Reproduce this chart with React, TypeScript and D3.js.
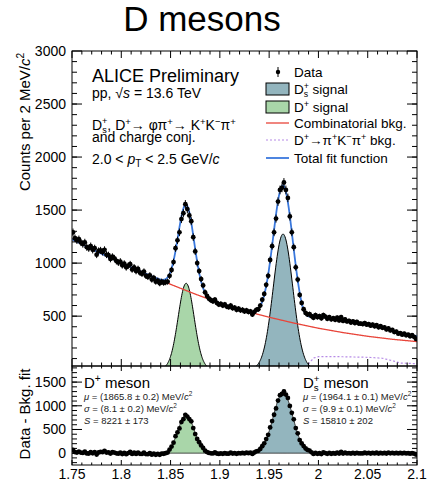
import React from 'react';
import * as d3 from 'd3';

const W = 433;
const H = 488;
const FONT = '"Liberation Sans", Arial, Helvetica, sans-serif';

// invariant mass histogram: 2 MeV/c2 bins between 1.75 and 2.10 GeV/c2
const massMin = 1.75;
const massMax = 2.1;
const binWidth = 0.002;
const counts = [
  1290, 1235, 1215, 1225, 1195, 1180, 1195, 1150, 1140, 1160, 1125, 1140,
  1080, 1115, 1120, 1105, 1125, 1080, 1075, 1040, 1060, 1045, 1020, 1005, 1015,
  980, 995, 960, 975, 990, 940, 960, 925, 945, 910, 900, 920,
  880, 870, 885, 845, 860, 825, 835, 810, 825, 815, 820, 825, 880,
  935, 1010, 1140, 1215, 1290, 1415, 1470, 1555, 1510, 1450, 1395, 1245,
  1110, 1000, 925, 850, 790, 725, 690, 665, 650, 640, 655, 625, 610,
  615, 600, 610, 590, 585, 600, 575, 580, 560, 570, 555, 560,
  545, 555, 540, 545, 515, 540, 560, 565, 600, 655, 710, 795, 880,
  1030, 1160, 1290, 1420, 1580, 1690, 1710, 1760, 1690, 1615, 1440, 1290,
  1150, 960, 845, 700, 625, 565, 530, 515, 520, 500, 485, 510, 490,
  500, 480, 510, 495, 475, 490, 470, 480, 465, 485, 460, 490,
  455, 470, 450, 455, 440, 450, 435, 445, 430, 430, 425, 435, 420,
  425, 410, 420, 405, 415, 395, 405, 390, 395, 375, 385, 365,
  370, 350, 355, 335, 340, 325, 335, 320, 325, 310, 320, 305, 285,
];

const bkgMass = [1.75, 1.775, 1.8, 1.825, 1.85, 1.875, 1.9, 1.925, 1.95, 1.975, 2.0, 2.025, 2.05, 2.075, 2.1];
const bkgCounts = [1225, 1110, 1002, 900, 800, 708, 622, 550, 490, 435, 386, 345, 310, 282, 260];

// D+ -> pi+ K- pi+ reflection
const reflMass = [1.75, 1.985, 1.99, 1.995, 2.0, 2.02, 2.05, 2.065, 2.075, 2.083, 2.1];
const reflCounts = [0, 0, 50, 105, 118, 118, 112, 103, 80, 58, 52];

// gaussian signals: D+ and Ds+
const sigMean = [1.8658, 1.9641];
const sigSigma = [0.0081, 0.0099];
const sigYield = [8221, 15810];

// ticks
const massTicks = [1.75, 1.8, 1.85, 1.9, 1.95, 2, 2.05, 2.1];
const massTickLabels = ['1.75', '1.8', '1.85', '1.9', '1.95', '2', '2.05', '2.1'];
const countTicks = [500, 1000, 1500, 2000, 2500, 3000];
const residTicks = [0, 500, 1000, 1500];

const colors = {
  dplus: '#a9d6a9',
  ds: '#93b5be',
  bkg: '#e8453a',
  refl: '#b68ae6',
  fit: '#3a78dd',
};

const x = d3.scaleLinear().domain([massMin, massMax]).range([72, 417]);
const yTop = d3.scaleLinear().domain([30, 3000]).range([366, 51]);
const yBot = d3.scaleLinear().domain([-250, 1840]).range([465, 366]);

const bkg = d3.scaleLinear().domain(bkgMass).range(bkgCounts);
const refl = d3.scaleLinear().domain(reflMass).range(reflCounts).clamp(true);
const gaus = (i: number, m: number) => {
  const amp = (sigYield[i] * binWidth) / (sigSigma[i] * Math.sqrt(2 * Math.PI));
  return amp * Math.exp(-0.5 * ((m - sigMean[i]) / sigSigma[i]) ** 2);
};

function Frame({ y, major, minor, xLen }: any) {
  const [x0, x1] = x.range();
  const [yb, yt] = y.range();
  const xMinor = d3.range(0, 36).map((i) => massMin + i * 0.01);
  return (
    <g stroke="#000" strokeWidth={1} fill="none">
      <rect x={x0} y={yt} width={x1 - x0} height={yb - yt} />
      {xMinor.map((m, i) => {
        const len = i % 5 === 0 ? xLen : xLen / 2;
        return (
          <g key={'x' + i}>
            <line x1={x(m)} x2={x(m)} y1={yb} y2={yb - len} />
            <line x1={x(m)} x2={x(m)} y1={yt} y2={yt + len} />
          </g>
        );
      })}
      {minor.map((v: number) => (
        <g key={'m' + v}>
          <line x1={x0} x2={x0 + 5} y1={y(v)} y2={y(v)} />
          <line x1={x1} x2={x1 - 5} y1={y(v)} y2={y(v)} />
        </g>
      ))}
      {major.map((v: number) => (
        <g key={'M' + v}>
          <line x1={x0} x2={x0 + 10} y1={y(v)} y2={y(v)} />
          <line x1={x1} x2={x1 - 10} y1={y(v)} y2={y(v)} />
        </g>
      ))}
    </g>
  );
}

// D_s^+ with stacked sub/superscript
const Ds = ({ size }: { size: number }) => (
  <>
    <tspan>D</tspan>
    <tspan fontSize={size * 0.65} baselineShift={-size * 0.22}>s</tspan>
    <tspan fontSize={size * 0.65} dx={-size * 0.33} baselineShift={size * 0.4}>+</tspan>
  </>
);

const Sup = ({ t, size }: { t: string; size: number }) => (
  <tspan fontSize={size * 0.68} baselineShift={size * 0.38}>{t}</tspan>
);

export default function App() {
  const pts = counts.map((c, i) => {
    const m = massMin + binWidth * (i + 0.5);
    return { m, c, e: Math.sqrt(c), r: c - bkg(m) - refl(m) };
  });

  const grid = d3.range(massMin, massMax + 1e-9, 0.0005);
  const lineTop = d3
    .line<[number, number]>()
    .x((d) => x(d[0]))
    .y((d) => yTop(d[1]))
    .curve(d3.curveMonotoneX);

  const totalFit = grid.map((m) => [m, bkg(m) + refl(m) + gaus(0, m) + gaus(1, m)] as [number, number]);
  const bkgLine = grid.map((m) => [m, bkg(m)] as [number, number]);
  const reflLine = d3
    .range(1.984, massMax + 1e-9, 0.0005)
    .map((m) => [m, refl(m)] as [number, number]);

  const sigArea = (i: number, y: any) => {
    const s = d3.range(sigMean[i] - 3 * sigSigma[i], sigMean[i] + 3 * sigSigma[i] + 1e-9, sigSigma[i] / 20);
    return d3
      .area<number>()
      .x((m) => x(m))
      .y0(y(0))
      .y1((m) => y(gaus(i, m)))
      .curve(d3.curveMonotoneX)(s) as string;
  };

  const fills = [colors.dplus, colors.ds];

  return (
    <svg width={W} height={H} style={{ position: 'absolute', left: 0, top: 0, background: '#fff' }} fontFamily={FONT}>
      <defs>
        <clipPath id="clipTop">
          <rect x={72} y={51} width={345} height={315} />
        </clipPath>
        <clipPath id="clipBot">
          <rect x={72} y={366} width={345} height={99} />
        </clipPath>
      </defs>

      <text x={202} y={31} textAnchor="middle" fontSize={35}>D mesons</text>

      {/* top panel */}
      <g clipPath="url(#clipTop)">
        {[0, 1].map((i) => (
          <path key={i} d={sigArea(i, yTop)} fill={fills[i]} stroke="#000" strokeWidth={1} />
        ))}
        <path d={lineTop(reflLine) as string} fill="none" stroke={colors.refl} strokeWidth={1.2} strokeDasharray="2,2" />
        <path d={lineTop(bkgLine) as string} fill="none" stroke={colors.bkg} strokeWidth={1.3} />
        <path d={lineTop(totalFit) as string} fill="none" stroke={colors.fit} strokeWidth={1.8} />
        {pts.map((p, i) => (
          <g key={i} stroke="#000" strokeWidth={1}>
            <line x1={x(p.m)} x2={x(p.m)} y1={yTop(p.c - p.e)} y2={yTop(p.c + p.e)} />
            <line x1={x(p.m - binWidth / 2)} x2={x(p.m + binWidth / 2)} y1={yTop(p.c)} y2={yTop(p.c)} />
            <circle cx={x(p.m)} cy={yTop(p.c)} r={2.4} fill="#000" stroke="none" />
          </g>
        ))}
      </g>
      <Frame y={yTop} major={countTicks} minor={d3.range(100, 3000, 100)} xLen={7} />
      {countTicks.map((v) => (
        <text key={v} x={66} y={yTop(v)} dy="0.35em" textAnchor="end" fontSize={14}>{v}</text>
      ))}

      {/* bottom panel */}
      <g clipPath="url(#clipBot)">
        {[0, 1].map((i) => (
          <path key={i} d={sigArea(i, yBot)} fill={fills[i]} stroke="#333" strokeWidth={1} />
        ))}
        {pts.map((p, i) => (
          <g key={i} stroke="#000" strokeWidth={1}>
            <line x1={x(p.m)} x2={x(p.m)} y1={yBot(p.r - p.e)} y2={yBot(p.r + p.e)} />
            <line x1={x(p.m - binWidth / 2)} x2={x(p.m + binWidth / 2)} y1={yBot(p.r)} y2={yBot(p.r)} />
            <circle cx={x(p.m)} cy={yBot(p.r)} r={2.4} fill="#000" stroke="none" />
          </g>
        ))}
      </g>
      <Frame y={yBot} major={residTicks} minor={d3.range(-200, 1840, 100)} xLen={5} />
      {residTicks.map((v) => (
        <text key={v} x={66} y={yBot(v)} dy="0.35em" textAnchor="end" fontSize={14}>{v}</text>
      ))}
      {massTicks.map((v, i) => (
        <text key={v} x={x(v)} y={479} textAnchor="middle" fontSize={14}>{massTickLabels[i]}</text>
      ))}

      {/* axis titles */}
      <text transform="translate(30,122) rotate(-90)" textAnchor="middle" fontSize={15}>
        Counts per 2 MeV/<tspan fontStyle="italic">c</tspan>
        <Sup t="2" size={15} />
      </text>
      <text transform="translate(30,414) rotate(-90)" textAnchor="middle" fontSize={15}>Data - Bkg. fit</text>

      {/* labels top panel */}
      <text x={92} y={82} fontSize={18}>ALICE Preliminary</text>
      <text x={92} y={98} fontSize={14}>
        pp, √<tspan fontStyle="italic">s</tspan> = 13.6 TeV
      </text>
      <text x={92} y={130} fontSize={14}>
        <Ds size={14} />, D<Sup t="+" size={14} />→ φπ<Sup t="+" size={14} />→ K<Sup t="+" size={14} />K<Sup t="−" size={14} />π<Sup t="+" size={14} />
      </text>
      <text x={92} y={142} fontSize={14}>and charge conj.</text>
      <text x={92} y={164} fontSize={14}>
        2.0 &lt; <tspan fontStyle="italic">p</tspan>
        <tspan fontSize={10} baselineShift={-3}>T</tspan> &lt; 2.5 GeV/<tspan fontStyle="italic">c</tspan>
      </text>

      {/* legend */}
      <g fontSize={13.5}>
        <line x1={278} x2={278} y1={67} y2={77} stroke="#000" />
        <circle cx={278} cy={72} r={2.2} fill="#000" />
        <text x={294} y={77}>Data</text>
        <rect x={266} y={83} width={23} height={12} fill={colors.ds} stroke="#000" />
        <text x={294} y={94}><Ds size={13.5} /> signal</text>
        <rect x={266} y={101} width={23} height={12} fill={colors.dplus} stroke="#000" />
        <text x={294} y={112}>D<Sup t="+" size={13.5} /> signal</text>
        <line x1={266} x2={289} y1={123} y2={123} stroke={colors.bkg} strokeWidth={1.3} />
        <text x={294} y={128}>Combinatorial bkg.</text>
        <line x1={266} x2={289} y1={140} y2={140} stroke={colors.refl} strokeWidth={1.2} strokeDasharray="2,2" />
        <text x={294} y={145}>
          D<Sup t="+" size={13.5} />→π<Sup t="+" size={13.5} />K<Sup t="−" size={13.5} />π<Sup t="+" size={13.5} /> bkg.
        </text>
        <line x1={266} x2={289} y1={158} y2={158} stroke={colors.fit} strokeWidth={1.8} />
        <text x={294} y={163}>Total fit function</text>
      </g>

      {/* labels bottom panel */}
      <text x={84} y={388} fontSize={15}>D<Sup t="+" size={15} /> meson</text>
      <g fontSize={9.5} fill="#222">
        <text x={84} y={400}>
          <tspan fontStyle="italic">μ</tspan> = (1865.8 ± 0.2) MeV/<tspan fontStyle="italic">c</tspan><Sup t="2" size={9.5} />
        </text>
        <text x={84} y={412}>
          <tspan fontStyle="italic">σ</tspan> = (8.1 ± 0.2) MeV/<tspan fontStyle="italic">c</tspan><Sup t="2" size={9.5} />
        </text>
        <text x={84} y={424}>
          <tspan fontStyle="italic">S</tspan> = 8221 ± 173
        </text>
      </g>
      <text x={303} y={388} fontSize={15}><Ds size={15} /> meson</text>
      <g fontSize={9.5} fill="#222">
        <text x={303} y={400}>
          <tspan fontStyle="italic">μ</tspan> = (1964.1 ± 0.1) MeV/<tspan fontStyle="italic">c</tspan><Sup t="2" size={9.5} />
        </text>
        <text x={303} y={412}>
          <tspan fontStyle="italic">σ</tspan> = (9.9 ± 0.1) MeV/<tspan fontStyle="italic">c</tspan><Sup t="2" size={9.5} />
        </text>
        <text x={303} y={424}>
          <tspan fontStyle="italic">S</tspan> = 15810 ± 202
        </text>
      </g>
    </svg>
  );
}
